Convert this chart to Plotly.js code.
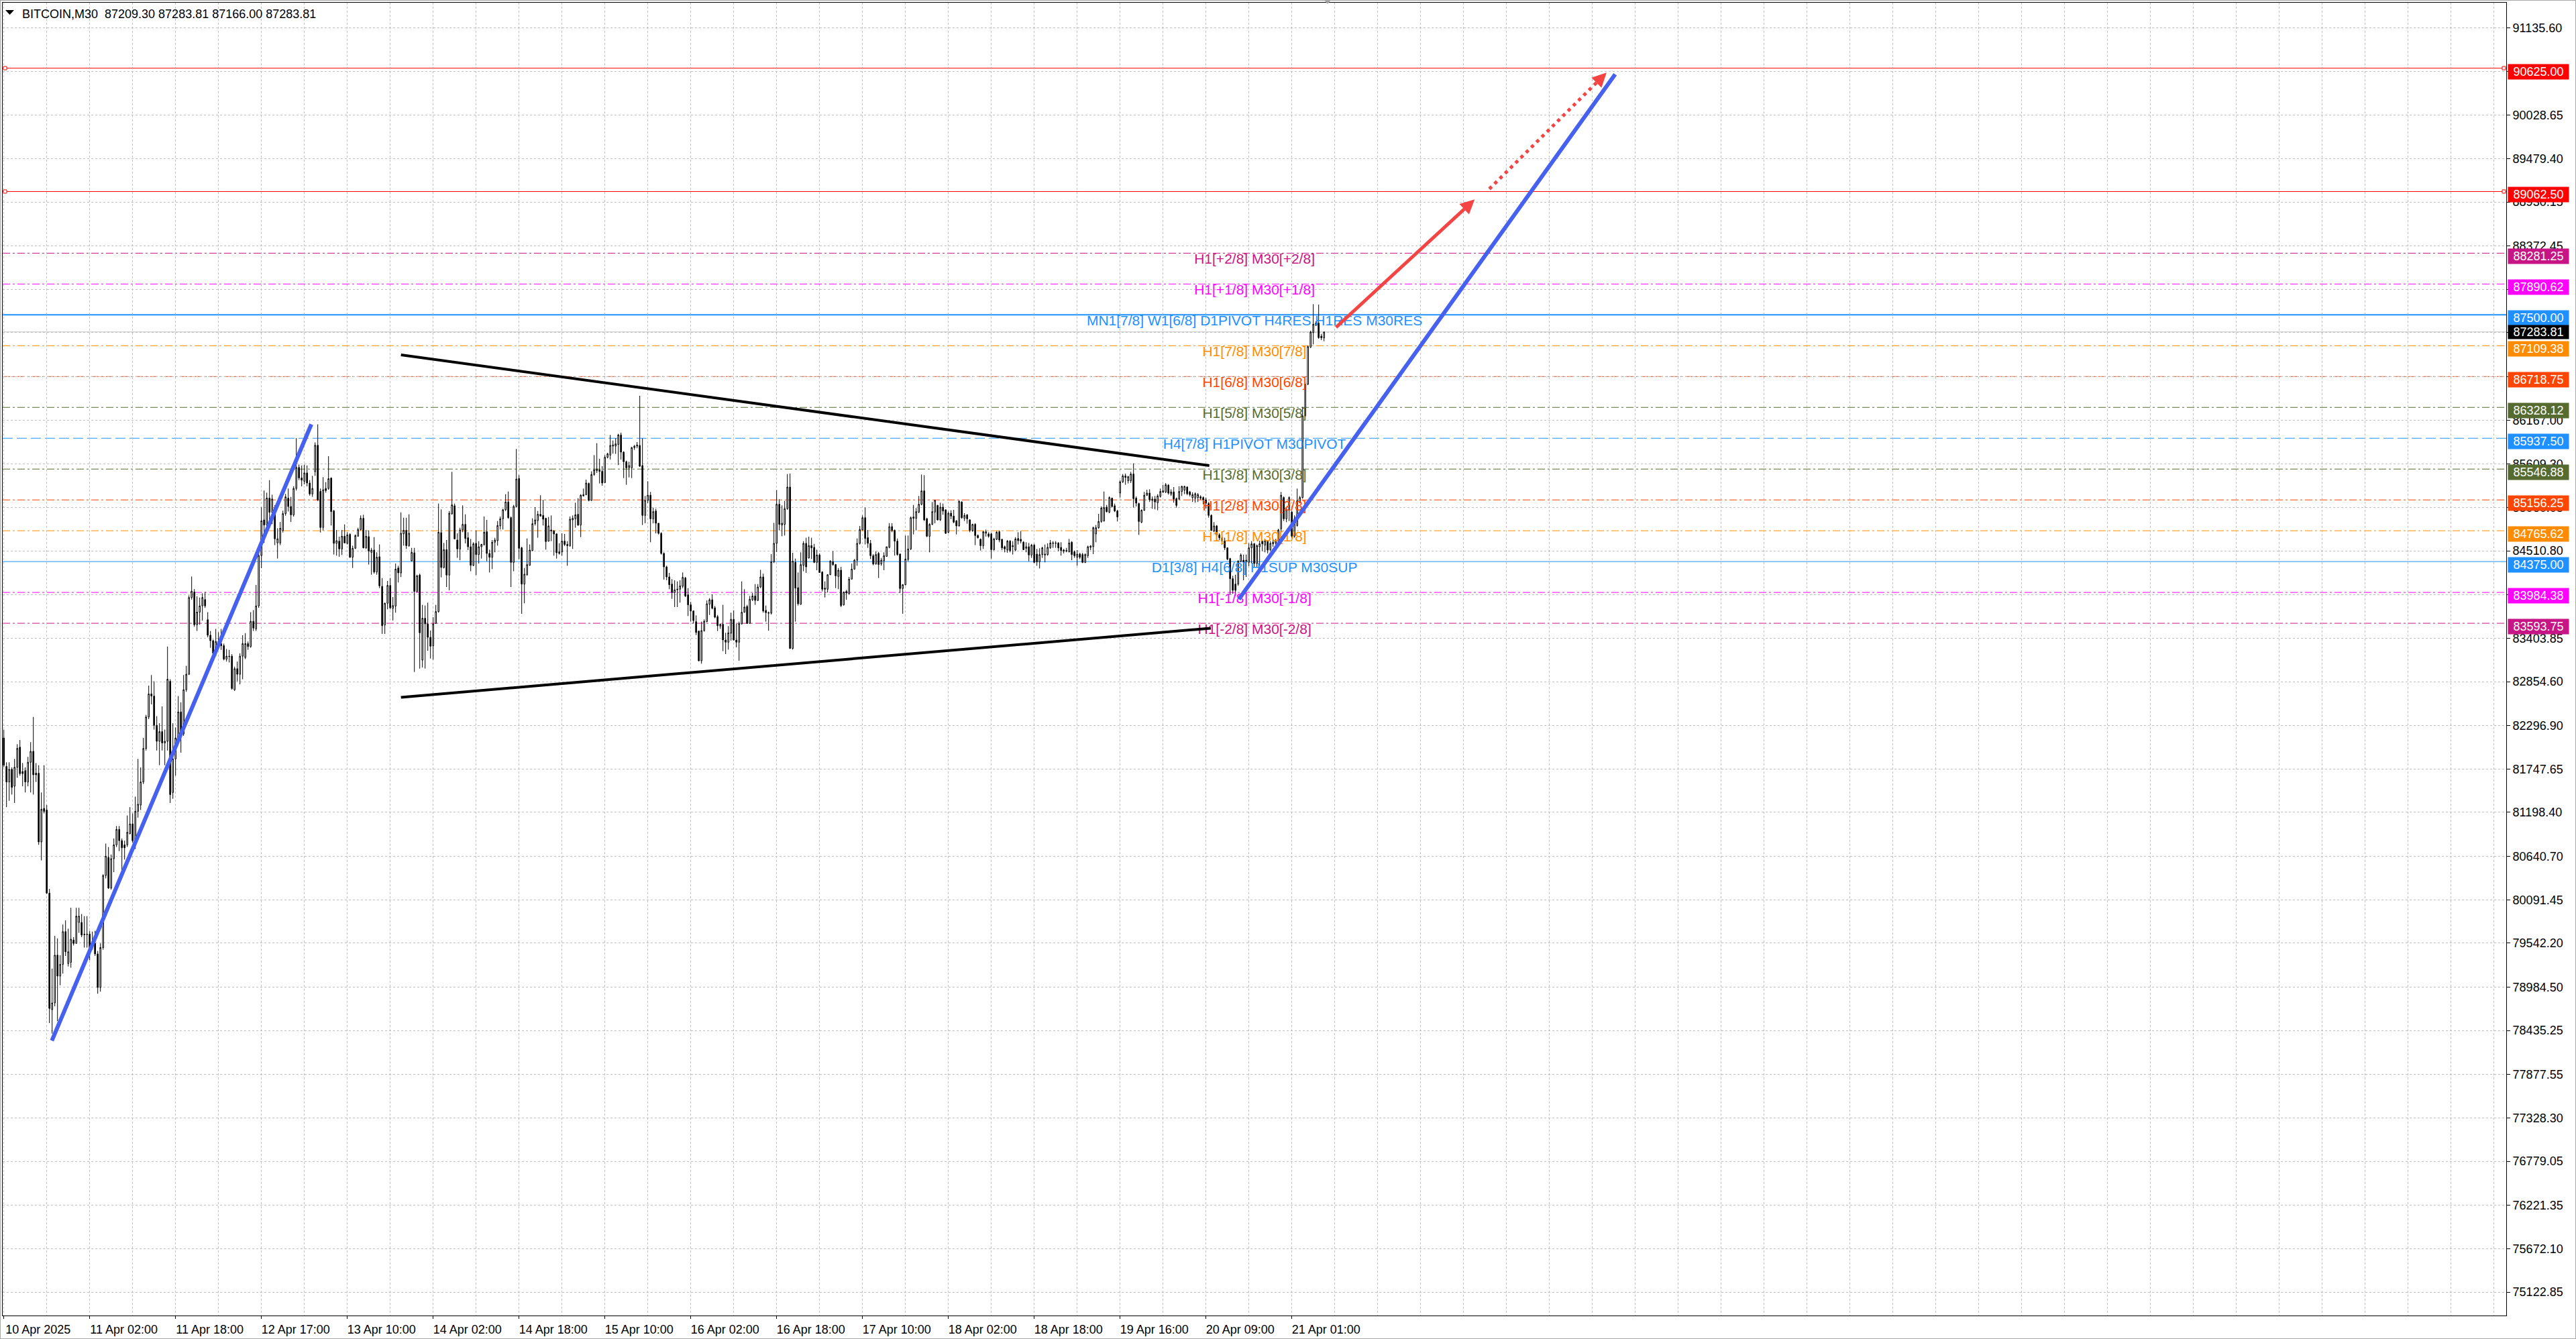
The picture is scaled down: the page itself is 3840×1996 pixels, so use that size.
<!DOCTYPE html>
<html><head><meta charset="utf-8">
<script src="https://cdn.plot.ly/plotly-3.0.1.min.js"></script>
<style>html,body{margin:0;padding:0;background:#fff;overflow:hidden}#chart{width:3840px;height:1996px}</style>
</head><body><div id="chart"></div>
<script>
// ---------- DATA (BITCOIN, M30) ----------
const symbolTitle = 'BITCOIN,M30';
const lastBarOHLC = [87209.30, 87283.81, 87166.00, 87283.81];
const bidPrice = 87283.81;

const openPrices = [
82141,81780,81584,81743,81530,81769,82024,81716,81727,81584,
81833,81971,81695,81695,80824,81249,81228,80176,78700,78785,
79390,79125,79273,79688,79284,79300,79581,79539,79804,79804,
79656,79650,79656,79486,79539,79406,78981,79486,80399,80628,
80240,80612,80787,80983,80840,80787,80787,80930,81052,80840,
81212,81291,81584,82008,82407,82699,82672,82301,82099,82221,
82078,82099,82858,81451,81876,82141,82471,82194,82752,82948,
83920,83990,83575,83735,83814,83894,83639,83442,83373,83214,
83363,83336,83310,83140,83177,83177,82752,83018,82948,83177,
83161,83336,83299,83618,83522,83814,84452,84903,84839,85179,
84999,85062,84611,84611,84770,84983,85179,85073,84967,85301,
85567,85434,85392,85498,85370,85232,85514,85848,85264,84807,
85301,85301,85433,85016,84606,84634,84535,84696,84606,84719,
84430,84543,84696,84781,84923,84549,84691,84492,84521,84243,
84436,84062,83572,83847,84073,83784,83812,84294,84232,84727,
84770,84577,84385,84487,83997,84204,83127,83657,83586,83416,
83309,83592,83742,84742,84300,84526,84204,84980,85082,84648,
84535,84776,84846,84677,84563,84328,84606,84464,84563,84592,
84753,84478,84430,84620,84640,84827,84917,85031,85130,84931,
84365,85073,85427,84549,84090,84209,84328,84515,84855,84895,
84974,84960,84923,84634,84776,84762,84725,84478,84498,84634,
84592,84577,84903,84917,84974,84838,85206,85223,85365,85150,
85478,85526,85535,85518,85376,85696,85724,85838,85838,85858,
85979,85761,85640,85563,85563,85818,85838,85846,85591,84960,
85150,85215,84917,85016,84861,84733,84478,84308,84181,84090,
83983,84017,84025,84062,84167,83954,83827,83750,83614,83495,
83119,83501,83614,83835,83892,83790,83677,83558,83580,83382,
83354,83467,83643,83382,83354,83586,83733,83807,83592,83892,
83940,83884,84053,84181,83756,83728,83722,84373,84606,85101,
84838,84846,85045,85319,83275,84365,84045,83835,84328,84606,
84422,84577,84555,84365,84458,84243,84039,84025,84209,84373,
84337,84187,84266,83827,83997,83969,84153,84280,84393,84606,
84776,84931,84677,84606,84450,84345,84478,84345,84385,84441,
84555,84818,84770,84634,84470,84034,84082,84402,84535,84923,
84923,85002,85101,85271,84917,84696,84846,85002,85087,84903,
85065,85031,84747,84988,84951,84889,84827,85130,84923,84968,
84903,84770,84846,84705,84657,84577,84733,84725,84725,84526,
84657,84753,84657,84563,84521,84634,84563,84521,84668,84657,
84620,84543,84563,84458,84583,84470,84373,84464,84458,84464,
84549,84611,84606,84611,84555,84521,84507,84498,84620,84498,
84430,84470,84464,84365,84450,84555,84563,84725,84804,84883,
84889,85065,85002,85178,85082,85016,85243,85385,85461,85399,
85399,85484,85178,85110,84875,85025,85215,85243,85150,85167,
85121,85200,85271,85257,85342,85229,85257,85172,85167,85263,
85280,85319,85257,85186,85178,85186,85195,85186,85158,85110,
84960,84762,84827,84713,84634,84634,84549,84413,84158,84090,
84090,84379,84393,84379,84365,84549,84600,84351,84563,84634,
84583,84634,84526,84600,84611,84634,84790,85186,84917,85031,
85002,84696,84832,85130,85186,86220,86622,87092,87274,87367,
87395,87230,87209.30];

const highPrices = [
82247,81833,81833,81769,81876,82062,82115,81823,81769,81902,
82088,82407,81823,81796,81451,81796,81291,80229,79220,79634,
79602,79390,79778,79831,79725,79990,79618,79990,79990,79911,
79884,79884,79698,79688,79698,79443,79539,80415,80803,80760,
80665,80867,81026,81026,80867,80840,81159,81265,81185,81398,
81876,81769,82141,82433,82805,82938,82858,82417,82327,82540,
82247,83299,82885,82327,82274,82672,82593,82938,83055,83947,
84186,84027,83936,83920,83973,83990,83735,83496,83389,83522,
83480,83522,83336,83267,83257,83203,83044,83108,83214,83442,
83469,83363,83735,83761,84080,84505,85062,85275,85248,85407,
85222,85089,84797,84876,85020,85232,85301,85195,85328,85939,
85604,85593,85604,85593,85407,85461,85885,86114,85301,85445,
85381,85710,85441,85031,84776,84691,84776,84846,84747,84733,
84577,84719,84804,84960,84968,84776,84770,84549,84685,84492,
84592,84167,83855,84130,84167,83926,84351,84322,84997,84931,
84931,84974,84549,84549,84209,84223,83827,83818,83855,83501,
83671,83827,85110,85036,84611,84648,85016,85512,85110,84733,
84804,85087,84974,84747,84662,84620,84770,84634,84600,84946,
84903,84526,84648,84677,84889,84946,85045,85229,85263,84946,
85093,85801,85470,84563,84294,84668,84592,84923,85065,85016,
85215,85158,84931,84940,84960,84776,84733,84606,84733,84725,
84634,84946,84960,85121,85178,85229,85300,85413,85376,85518,
85724,85875,85676,85583,85724,85753,85979,85909,85937,85994,
86008,85773,85654,85640,85829,85852,85889,86475,85937,85206,
85393,85257,85059,85045,84861,84747,84492,84322,84232,84153,
84138,84124,84138,84237,84181,84039,83864,83756,83694,83501,
83614,83643,83884,83912,83960,83813,83699,83592,83827,83473,
83558,83728,83756,83586,83614,84124,84025,83827,83940,83977,
84090,84090,84271,84223,83818,83742,84470,84866,85280,85167,
85087,85144,85484,85490,84487,84413,84237,84492,84634,84677,
84691,84677,84600,84526,84478,84252,84124,84215,84393,84507,
84345,84294,84308,83997,84017,84181,84351,84407,84668,84827,
84960,85059,84776,84648,84470,84507,84498,84422,84492,84563,
84861,84861,84781,84668,84478,84090,84705,84705,84946,85093,
85053,85206,85478,85470,84931,84861,85130,85158,85093,85121,
85110,85036,85008,85025,85031,84903,85150,85138,84988,84974,
84912,84855,84861,84719,84668,84762,84781,84747,84742,84677,
84762,84770,84662,84577,84648,84648,84634,84685,84747,84762,
84634,84620,84611,84600,84600,84535,84543,84563,84591,84606,
84648,84634,84634,84620,84620,84535,84549,84662,84634,84515,
84521,84487,84487,84478,84577,84583,84818,84838,84980,85073,
85263,85093,85200,85186,85110,85031,85405,85484,85490,85461,
85512,85620,85200,85121,85036,85257,85285,85291,85200,85206,
85229,85300,85348,85370,85356,85291,85319,85186,85328,85336,
85336,85328,85271,85251,85251,85243,85215,85200,85186,85130,
84974,84875,84838,84733,84705,84677,84555,84422,84195,84209,
84393,84478,84464,84464,84606,84634,84611,84591,84640,84648,
84662,84648,84634,84662,84662,84790,85257,85200,85059,85200,
85016,84960,85300,85206,86333,86640,87110,87300,87636,87420,
87630,87260,87283.81];

const lowPrices = [
81770,81265,81345,81424,81318,81637,81663,81530,81451,81530,
81451,81424,81584,80787,80590,81185,80166,78530,78397,78742,
78556,79008,79156,79380,79247,79231,79512,79539,79672,79618,
79486,79486,79326,79459,79380,78902,78928,79459,80362,80229,
80220,80442,80760,80707,80468,80601,80760,80920,80814,80734,
81132,81228,81557,81982,82380,82566,82247,81982,81796,81982,
81796,81982,81318,81371,81663,82062,81955,82168,82725,82938,
83894,83549,83496,83575,83628,83788,83416,83283,83203,83177,
83310,83257,83124,83108,83097,82752,82736,82858,82821,82885,
83140,83257,83283,83496,83496,83788,84292,84611,84797,84797,
84850,84584,84414,84584,84744,84956,85009,84876,84945,85275,
85407,85328,85354,85328,85211,85195,85461,85142,84744,84770,
85248,85285,84832,84464,84450,84436,84458,84606,84592,84422,
84294,84535,84691,84770,84543,84535,84337,84209,84223,84209,
84039,83459,83459,83770,83770,83629,83728,84110,84181,84577,
84535,84563,84379,82977,83983,83020,83034,83020,83246,83147,
83133,83586,83728,84175,84288,84053,84011,84968,84657,84422,
84393,84747,84606,84521,84252,84317,84204,84351,84413,84577,
84379,84237,84280,84492,84577,84781,84781,85016,84917,84053,
84252,85059,84407,83714,83847,84195,84322,84507,84832,84677,
84946,84832,84526,84628,84634,84450,84413,84464,84450,84572,
84322,84563,84535,84804,84827,84685,85201,85215,85138,85144,
85461,85498,85365,85336,85370,85682,85668,85744,85739,85597,
85668,85433,85348,85441,85433,85790,85810,85574,84838,84861,
85116,84620,84861,84733,84719,84464,84147,84138,84025,83903,
83799,83799,83855,84039,83926,83685,83614,83592,83444,83110,
83082,83487,83609,83699,83770,83657,83495,83524,83241,83204,
83260,83374,83374,83289,83119,83580,83728,83586,83586,83875,
83827,83875,84039,83728,83614,83501,83705,84356,84498,84770,
84696,84705,85031,83269,83260,83614,83818,83827,84252,84232,
84413,84407,84356,84266,84232,83997,83920,83983,84204,84322,
84039,84025,83799,83818,83892,83960,84147,84271,84322,84592,
84770,84592,84549,84407,84328,84337,84167,84322,84266,84436,
84543,84747,84450,84450,83977,83714,84073,84379,84521,84719,
84770,84988,85087,84889,84685,84492,84838,84861,84895,84889,
84968,84725,84733,84912,84861,84719,84818,84917,84889,84855,
84747,84753,84583,84668,84515,84535,84691,84677,84413,84515,
84648,84620,84521,84492,84487,84492,84464,84507,84591,84606,
84521,84492,84379,84422,84356,84322,84288,84422,84365,84450,
84535,84549,84549,84507,84450,84478,84492,84492,84393,84422,
84322,84407,84356,84356,84422,84521,84470,84620,84790,84866,
84883,84997,84988,85059,85002,84883,85186,85371,85348,85365,
85371,85059,85073,84713,84861,85016,85206,85130,85045,85036,
85025,85186,85243,85243,85223,85206,85121,85059,85158,85206,
85229,85215,85200,85130,85121,85130,85158,85101,85045,84931,
84762,84747,84691,84648,84591,84521,84393,83954,83968,83940,
84068,84365,84138,84181,84317,84351,84308,84308,84322,84507,
84492,84478,84507,84563,84591,84620,84747,84889,84875,84889,
84677,84677,84818,85115,85172,86210,86610,87080,87126,87360,
87197,87180,87166.00];

const closePrices = [
81796,81584,81743,81515,81769,82008,81690,81690,81584,81833,
81971,81674,81674,80824,81238,81212,80176,78716,78785,79390,
79125,79273,79688,79433,79433,79592,79539,79884,79884,79645,
79650,79656,79486,79550,79406,78981,79486,80399,80643,80240,
80612,80787,80983,80840,80750,80750,80946,81052,80840,81212,
81302,81584,82008,82407,82699,82672,82301,82099,82221,82078,
82099,82885,81424,81876,82141,82471,82194,82752,82948,83920,
84000,83575,83735,83814,83920,83814,83442,83373,83214,83363,
83336,83310,83140,83177,83172,82768,83018,82948,83177,83336,
83336,83299,83618,83533,83814,84452,84892,84839,85179,84999,
85168,84664,84664,84797,84983,85195,85073,84967,85301,85567,
85434,85407,85498,85370,85232,85301,85848,85158,84807,85285,
85275,85425,85008,84606,84640,84535,84696,84611,84713,84430,
84543,84705,84781,84923,84549,84696,84507,84521,84243,84430,
84068,83563,83847,84073,83790,83818,84280,84232,84733,84770,
84577,84733,84492,83997,84195,83473,83657,83586,83416,83303,
83586,83742,84747,84300,84526,84204,84988,85093,84662,84535,
84776,84846,84668,84563,84328,84600,84464,84563,84592,84747,
84478,84430,84620,84648,84832,84917,85031,85130,84931,84365,
85073,85421,84543,84090,84215,84337,84521,84855,84903,84974,
84951,84912,84628,84827,84762,84725,84487,84498,84634,84592,
84577,84912,84923,84968,84838,85215,85223,85370,85150,85478,
85535,85546,85518,85370,85696,85739,85846,85852,85866,85979,
85761,85640,85563,85591,85818,85838,85852,85583,84960,85150,
85215,84917,85008,84861,84733,84478,84308,84181,84082,83983,
84017,84025,84068,84175,83940,83827,83750,83629,83478,83119,
83501,83620,83841,83892,83784,83671,83563,83580,83382,83354,
83473,83643,83382,83354,83592,83733,83799,83592,83898,83940,
83884,84053,84181,83750,83728,83722,84373,84606,85101,84846,
84861,85045,85319,83275,84379,84039,83841,84337,84606,84308,
84577,84549,84365,84458,84237,84025,84025,84209,84379,84337,
84195,84266,83818,83988,83977,84153,84280,84393,84606,84781,
84931,84668,84606,84450,84345,84464,84337,84393,84450,84563,
84818,84770,84634,84464,84034,84082,84407,84535,84931,84940,
85008,85101,85271,84903,84696,84846,85008,85150,84903,85065,
85016,84733,84988,84951,84875,84827,85138,84931,84960,84917,
84770,84846,84705,84677,84577,84753,84753,84696,84526,84662,
84747,84648,84549,84535,84634,84515,84577,84662,84640,84634,
84526,84563,84458,84583,84365,84373,84464,84549,84470,84555,
84611,84606,84610,84549,84515,84507,84515,84611,84464,84450,
84470,84430,84365,84464,84563,84572,84804,84804,84883,85053,
85059,85008,85186,85073,85016,84940,85385,85461,85441,85450,
85484,85172,85115,84883,85025,85215,85243,85158,85167,85130,
85206,85263,85257,85348,85243,85257,85167,85087,85263,85328,
85328,85235,85223,85223,85235,85223,85178,85158,85115,84960,
84770,84827,84713,84677,84677,84549,84407,84158,84011,84011,
84379,84458,84373,84393,84549,84600,84351,84577,84600,84600,
84640,84521,84606,84620,84640,84776,85215,84917,85031,85186,
84696,84917,85144,85186,86220,86622,87098,87282,87381,87395,
87211,87209,87283.81];

// time axis labels (one every 32 bars of M30)
const timeLabels = ['10 Apr 2025','11 Apr 02:00','11 Apr 18:00','12 Apr 17:00','13 Apr 10:00',
  '14 Apr 02:00','14 Apr 18:00','15 Apr 10:00','16 Apr 02:00','16 Apr 18:00','17 Apr 10:00',
  '18 Apr 02:00','18 Apr 18:00','19 Apr 16:00','20 Apr 09:00','21 Apr 01:00'];
const barsPerLabel = 32;

// price scale marks
const priceScale = [91135.60,90586.35,90028.65,89479.40,88930.15,88372.45,87823.20,87273.95,
  86716.25,86167.00,85609.30,85060.05,84510.80,83953.10,83403.85,82854.60,82296.90,81747.65,
  81198.40,80640.70,80091.45,79542.20,78984.50,78435.25,77877.55,77328.30,76779.05,76221.35,
  75672.10,75122.85];

// Murrey / pivot levels
const levelPrices = [90625.00,89062.50,88281.25,87890.62,87500.00,87109.38,86718.75,86328.12,
  85937.50,85546.88,85156.25,84765.62,84375.00,83984.38,83593.75];
const levelColors = ['#FF0000','#FF0000','#C71585','#FF00FF','#1E90FF','#FF8C00','#FF4500',
  '#556B2F','#1E90FF','#556B2F','#FF4500','#FF8C00','#1E90FF','#FF00FF','#C71585'];
const levelStyles = ['solid','solid','dashdot','dashdot','solid','dashdot','dashdot','dashdot',
  'dash','dashdot','dashdot','dashdot','solidthin','dashdot','dashdot'];
const levelTexts = ['','','H1[+2/8] M30[+2/8]','H1[+1/8] M30[+1/8]',
  'MN1[7/8] W1[6/8] D1PIVOT H4RES H1RES M30RES','H1[7/8] M30[7/8]','H1[6/8] M30[6/8]',
  'H1[5/8] M30[5/8]','H4[7/8] H1PIVOT M30PIVOT','H1[3/8] M30[3/8]','H1[2/8] M30[2/8]',
  'H1[1/8] M30[1/8]','D1[3/8] H4[6/8] H1SUP M30SUP','H1[-1/8] M30[-1/8]','H1[-2/8] M30[-2/8]'];
const levelTextBar = 466.1;

// drawn trend objects: [bar, price] endpoints
const blueTrend1 = {bars:[17.9,114.6], prices:[78307,86114]};
const triangleUpper = {bars:[148,449.25], prices:[86993,85591]};
const triangleLower = {bars:[148,449.8], prices:[82656,83531]};
const blueTrend2 = {bars:[460.25,600.5], prices:[83898,90548]};
const redArrow = {bars:[496.1,548.15], prices:[87331,88962]};
const redDotted = {bars:[553.6,594.6], prices:[89095,90477], tip:[597.3,90568]};

// ---------- BUILD ----------
const FONT = '"Liberation Sans", Arial, sans-serif';
const barIdx = closePrices.map((_, i) => i);
const majorBars = timeLabels.map((_, i) => i * barsPerLabel);
const minorBars = [];
for (let b = 16; b <= 928; b += 16) if (!majorBars.includes(b)) minorBars.push(b);

const traces = [];
traces.push({
  type:'candlestick', x:barIdx, open:openPrices, high:highPrices, low:lowPrices, close:closePrices,
  increasing:{line:{color:'#000000', width:1}, fillcolor:'#FFFFFF'},
  decreasing:{line:{color:'#000000', width:1}, fillcolor:'#000000'},
  whiskerwidth:0, hoverinfo:'skip', showlegend:false
});
// level texts
const tIdx = levelTexts.map((t,i)=>i).filter(i=>levelTexts[i]);
traces.push({
  type:'scatter', mode:'text', x:tIdx.map(()=>levelTextBar), y:tIdx.map(i=>levelPrices[i]),
  text:tIdx.map(i=>levelTexts[i]), textposition:'bottom center',
  textfont:{family:FONT, size:21, color:tIdx.map(i=>levelColors[i])},
  hoverinfo:'skip', showlegend:false, cliponaxis:false
});
function lineTrace(obj, color, width, dash){
  return {type:'scatter', mode:'lines', x:obj.bars, y:obj.prices,
    line:{color:color, width:width, dash:dash||'solid'}, hoverinfo:'skip', showlegend:false};
}
const BLUE = '#4660F0', RED = '#F44444';
traces.push(lineTrace(triangleUpper, '#000000', 4));
traces.push(lineTrace(triangleLower, '#000000', 4));
traces.push(lineTrace(blueTrend1, BLUE, 6));
traces.push(lineTrace(blueTrend2, BLUE, 6));
traces.push(lineTrace(redDotted, RED, 5, '5px,6px'));

const shapes = [];
const dashMap = {solid:'solid', solidthin:'solid', dashdot:'11px,4px,3px,4px', dash:'15px,6px'};
levelPrices.forEach((p,i)=>{
  shapes.push({type:'line', xref:'paper', x0:0, x1:1, yref:'y', y0:p, y1:p, layer:'below',
    line:{color:levelColors[i], width: levelStyles[i]==='solid' && levelColors[i]==='#1E90FF' ? 2 : 1,
      dash:dashMap[levelStyles[i]]}});
});
// bid line
shapes.push({type:'line', xref:'paper', x0:0, x1:1, yref:'y', y0:bidPrice, y1:bidPrice, layer:'below',
  line:{color:'#C0C0C0', width:1}});
// selected-line anchors on red levels
[0,1].forEach(i=>{
  [[0,1,6],[1,-6,-1]].forEach(a=>{
    shapes.push({type:'rect', xref:'paper', xsizemode:'pixel', xanchor:a[0], x0:a[1], x1:a[2],
      yref:'y', ysizemode:'pixel', yanchor:levelPrices[i], y0:-2.5, y1:2.5,
      line:{color:'#FF0000', width:1}, fillcolor:'#FFFFFF', layer:'above'});
  });
});
// title triangle marker
shapes.push({type:'path', xref:'paper', yref:'paper', xsizemode:'pixel', ysizemode:'pixel',
  xanchor:0, yanchor:1, path:'M4,-11L17,-11L10.5,-18Z', fillcolor:'#000000', line:{width:0}});
// chart shift marker at top
shapes.push({type:'path', xref:'paper', yref:'paper', xsizemode:'pixel', ysizemode:'pixel',
  xanchor:(1979-4)/3732, yanchor:1, path:'M-5,4L5,4L0,-2Z', fillcolor:'#A0A0A0', line:{width:0}});
// window frame
shapes.push({type:'rect', xref:'paper', yref:'paper', x0:-4/3732, x1:(3840-4)/3732,
  y0:-35/1957, y1:1+4/1957, line:{color:'#A8A8A8', width:2}, fillcolor:'rgba(0,0,0,0)'});

const annotations = [];
annotations.push({xref:'paper', yref:'paper', x:0, y:1, xanchor:'left', yanchor:'top', xshift:27, yshift:-5,
  showarrow:false, align:'left', font:{family:FONT, size:18, color:'#000'},
  text: symbolTitle + '\u00A0\u00A0' + lastBarOHLC.map(v=>v.toFixed(2)).join(' ')});
levelPrices.forEach((p,i)=>{
  annotations.push({xref:'paper', x:1, xanchor:'left', xshift:2, yref:'y', y:p, yanchor:'middle', yshift:-5,
    text:p.toFixed(2), showarrow:false, font:{family:FONT, size:18, color:'#FFFFFF'},
    bgcolor:levelColors[i], width:88, height:20, borderpad:1, align:'center'});
});
annotations.push({xref:'paper', x:1, xanchor:'left', xshift:2, yref:'y', y:bidPrice, yanchor:'middle',
  text:bidPrice.toFixed(2), showarrow:false, font:{family:FONT, size:18, color:'#FFFFFF'},
  bgcolor:'#000000', width:88, height:18, borderpad:1, align:'center'});
// arrows
annotations.push({xref:'x', yref:'y', axref:'x', ayref:'y', x:redArrow.bars[1], y:redArrow.prices[1],
  ax:redArrow.bars[0], ay:redArrow.prices[0], text:'', showarrow:true, arrowhead:2, arrowsize:0.85,
  arrowwidth:5, arrowcolor:RED, standoff:0});
annotations.push({xref:'x', yref:'y', axref:'x', ayref:'y', x:redDotted.tip[0], y:redDotted.tip[1],
  ax:redDotted.bars[1], ay:redDotted.prices[1], text:'', showarrow:true, arrowhead:2, arrowsize:0.85,
  arrowwidth:5, arrowcolor:RED, standoff:0});

const layout = {
  width:3840, height:1996, margin:{l:4, r:104, t:4, b:35, pad:0},
  paper_bgcolor:'#FFFFFF', plot_bgcolor:'#FFFFFF', showlegend:false, boxgap:0.4,
  font:{family:FONT, size:18, color:'#000'},
  xaxis:{type:'linear', range:[-0.425, 932.575], rangeslider:{visible:false}, fixedrange:true,
    tickmode:'array', tickvals:majorBars, ticktext:timeLabels, ticks:'outside', ticklen:4,
    tickcolor:'#000', ticklabelshift:51, tickfont:{family:FONT, size:18, color:'#000'},
    showgrid:true, gridcolor:'#C0C0C0', griddash:'3px,3px', gridwidth:1, zeroline:false,
    showline:true, linecolor:'#000', linewidth:1, mirror:true,
    minor:{tickmode:'array', tickvals:minorBars, showgrid:true, gridcolor:'#C0C0C0', griddash:'3px,3px',
      gridwidth:1, ticks:''}},
  yaxis:{range:[74825.6, 91454.2], side:'right', fixedrange:true, tickmode:'array', tickvals:priceScale,
    ticktext:priceScale.map(v=>v.toFixed(2)), ticks:'outside', ticklen:5, tickcolor:'#000',
    tickfont:{family:FONT, size:18, color:'#000'}, showgrid:true, gridcolor:'#C0C0C0',
    griddash:'3px,3px', gridwidth:1, zeroline:false, showline:true, linecolor:'#000', linewidth:1, mirror:true},
  shapes:shapes, annotations:annotations
};
Plotly.newPlot('chart', traces, layout, {displayModeBar:false, staticPlot:true});
</script></body></html>
